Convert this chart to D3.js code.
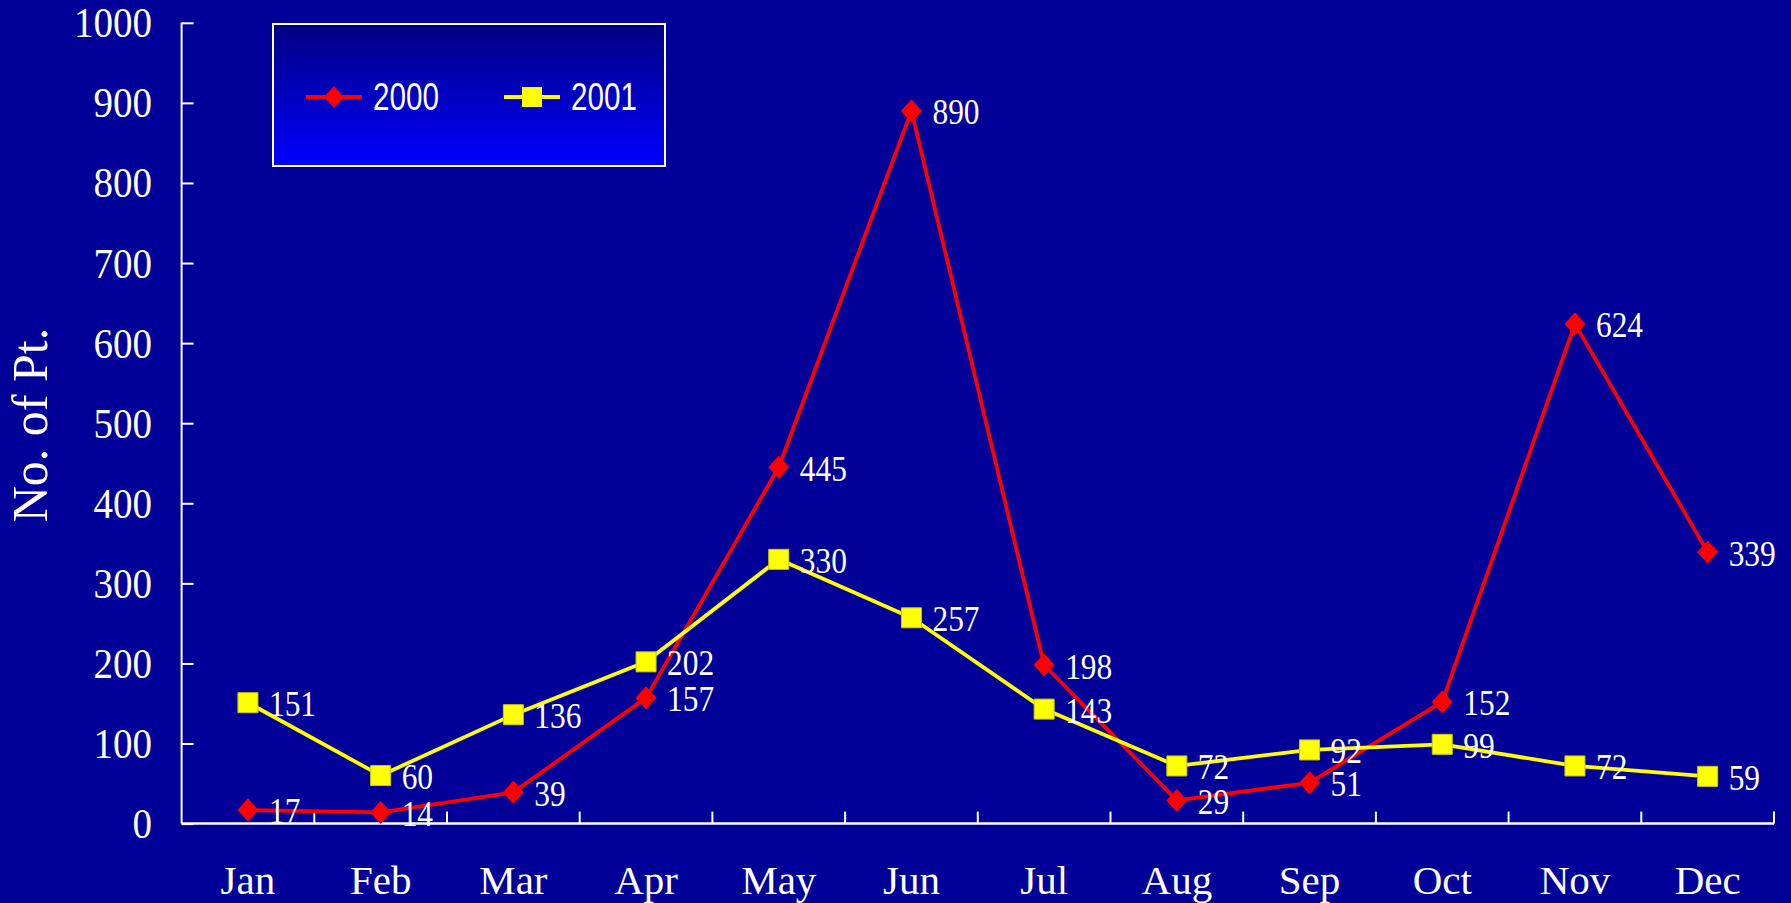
<!DOCTYPE html>
<html><head><meta charset="utf-8">
<script src="https://cdn.jsdelivr.net/npm/d3@7"></script>
<style>html,body{margin:0;padding:0;background:#000099;overflow:hidden}</style>
</head><body>
<svg id="c" width="1791" height="903"></svg>
<script>
const months = ["Jan","Feb","Mar","Apr","May","Jun","Jul","Aug","Sep","Oct","Nov","Dec"];
const series2000 = [17,14,39,157,445,890,198,29,51,152,624,339];
const series2001 = [151,60,136,202,330,257,143,72,92,99,72,59];
const yTicks = [0,100,200,300,400,500,600,700,800,900,1000];
const seriesNames = ["2000","2001"];

(function(){
const svg = d3.select("#c");
const W = 1791, H = 903;
svg.append("rect").attr("width", W).attr("height", H).attr("fill", "#000099");

const pL = 181.6, pR = 1774, pT = 22.8, pB = 823.6;
const x = d3.scaleBand().domain(months).range([pL, pR]);
const y = d3.scaleLinear().domain([0, 1000]).range([pB, pT]);
const serif = "'Liberation Serif','Times New Roman',serif";

// Axes
const ya = svg.append("g").attr("transform", `translate(${pL},0)`)
  .call(d3.axisRight(y).tickValues(yTicks).tickSize(12).tickFormat(""));
ya.selectAll("path, line").attr("stroke", "#fff").attr("stroke-width", 2);
ya.select(".domain").attr("d", `M0,${pT}V${pB}`);

svg.append("line").attr("x1", pL).attr("x2", pR).attr("y1", pB).attr("y2", pB)
  .attr("stroke", "#fff").attr("stroke-width", 2.5);
const bounds = months.map((m) => x(m) + x.bandwidth());
svg.append("g").selectAll("line").data(bounds).join("line")
  .attr("x1", d => d).attr("x2", d => d).attr("y1", pB).attr("y2", pB - 12)
  .attr("stroke", "#fff").attr("stroke-width", 2);

// Tick labels
svg.append("g").selectAll("text").data(yTicks).join("text")
  .attr("x", 152).attr("y", d => y(d) + 14.5)
  .attr("text-anchor", "end").attr("fill", "#fff")
  .attr("font-family", serif).attr("font-size", 43)
  .attr("textLength", d => String(d).length * 19.5).attr("lengthAdjust", "spacingAndGlyphs")
  .text(d => d);

svg.append("g").selectAll("text").data(months).join("text")
  .attr("x", d => x(d) + x.bandwidth() / 2).attr("y", 894)
  .attr("text-anchor", "middle").attr("fill", "#fff")
  .attr("font-family", serif).attr("font-size", 41)
  .text(d => d);

svg.append("text")
  .attr("transform", "translate(47,425) rotate(-90)")
  .attr("text-anchor", "middle").attr("fill", "#fff")
  .attr("font-family", serif).attr("font-size", 50)
  .text("No. of Pt.");

// Lines
const cx = m => x(m) + x.bandwidth() / 2;
const line = d3.line().x((d, i) => cx(months[i])).y(d => y(d));
const diamond = "M0,-11L10,0L0,11L-10,0Z";
const square = "M-10,-10H10V10H-10Z";

function drawSeries(data, color, shape) {
  svg.append("path").datum(data).attr("d", line)
    .attr("fill", "none").attr("stroke", color).attr("stroke-width", 3.8)
    .attr("stroke-linejoin", "round");
  svg.append("g").selectAll("path").data(data).join("path")
    .attr("transform", (d, i) => `translate(${cx(months[i])},${y(d)})`)
    .attr("d", shape).attr("fill", color)
    .attr("stroke", color === "#ffff00" ? "#cccc00" : color).attr("stroke-width", 1);
}
function drawLabels(data) {
  svg.append("g").selectAll("text").data(data).join("text")
    .attr("x", (d, i) => cx(months[i]) + 21).attr("y", d => y(d) + 13.5)
    .attr("fill", "#fff").attr("font-family", serif).attr("font-size", 35)
    .attr("textLength", d => String(d).length * 15.7).attr("lengthAdjust", "spacingAndGlyphs")
    .text(d => d);
}
drawSeries(series2000, "#ff0000", diamond);
drawSeries(series2001, "#ffff00", square);
drawLabels(series2000);
drawLabels(series2001);

// Legend
const defs = svg.append("defs");
const grad = defs.append("linearGradient").attr("id", "lg").attr("x1", 0).attr("y1", 0).attr("x2", 0).attr("y2", 1);
grad.append("stop").attr("offset", "0%").attr("stop-color", "#000080");
grad.append("stop").attr("offset", "100%").attr("stop-color", "#0000ff");
svg.append("rect").attr("x", 273).attr("y", 24).attr("width", 392).attr("height", 142)
  .attr("fill", "url(#lg)").attr("stroke", "#fff").attr("stroke-width", 2);
const legItems = [
  {name: seriesNames[0], color: "#ff0000", shape: diamond, x0: 306},
  {name: seriesNames[1], color: "#ffff00", shape: square, x0: 504}
];
const lg = svg.append("g").selectAll("g").data(legItems).join("g");
lg.append("line").attr("x1", d => d.x0).attr("x2", d => d.x0 + 56).attr("y1", 97).attr("y2", 97)
  .attr("stroke", d => d.color).attr("stroke-width", 3.8);
lg.append("path").attr("transform", d => `translate(${d.x0 + 28},97)`).attr("d", d => d.shape)
  .attr("fill", d => d.color);
lg.append("text").attr("x", d => d.x0 + 67).attr("y", 110)
  .attr("fill", "#fff").attr("font-family", "'Liberation Sans',Arial,sans-serif").attr("font-size", 38)
  .attr("textLength", 66).attr("lengthAdjust", "spacingAndGlyphs")
  .text(d => d.name);
})();
</script>
</body></html>
